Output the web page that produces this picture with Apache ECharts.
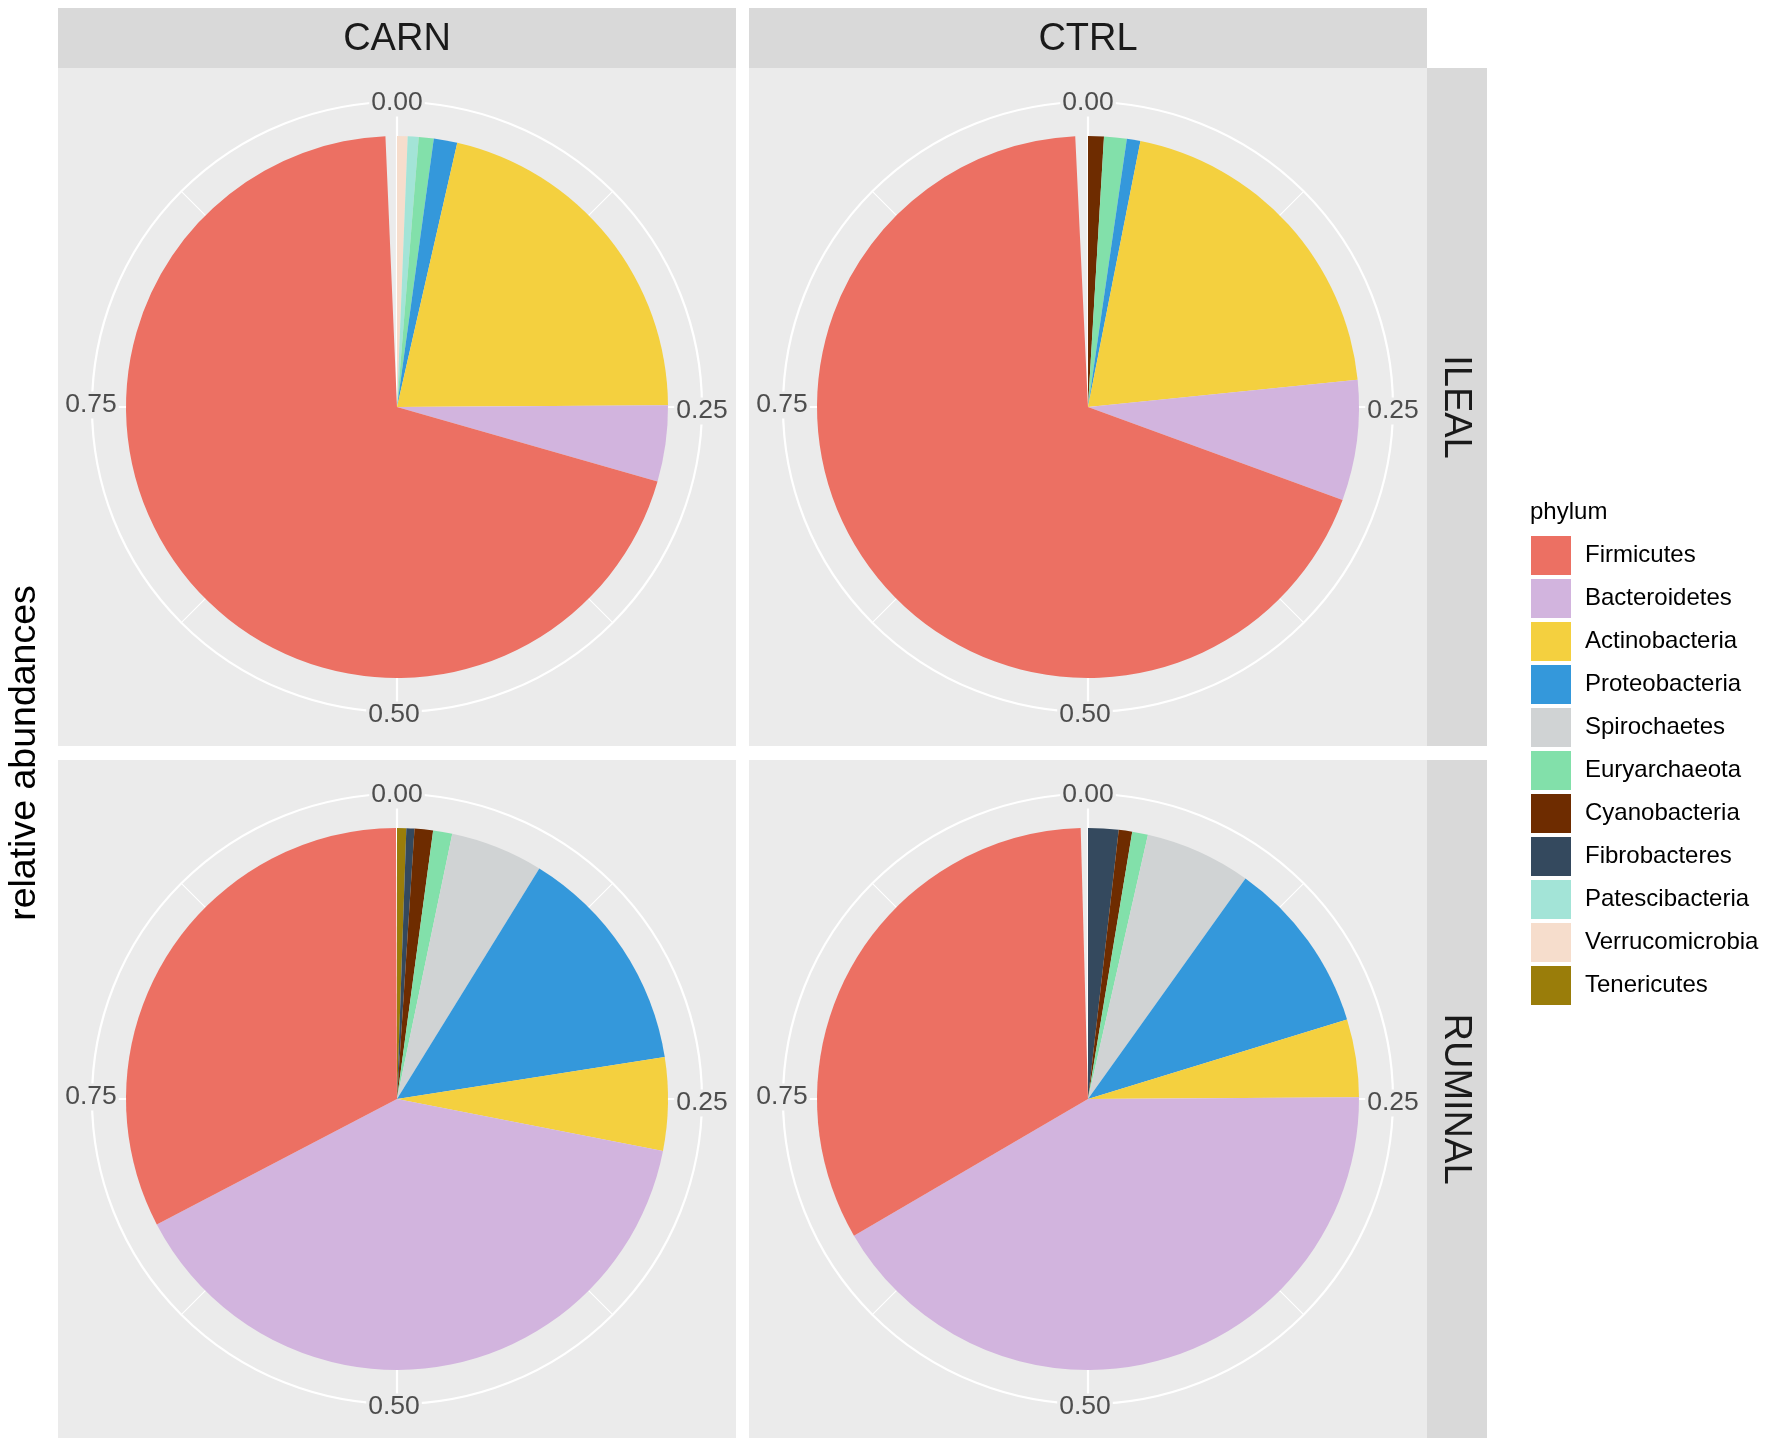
<!DOCTYPE html>
<html><head><meta charset="utf-8">
<script src="https://cdn.jsdelivr.net/npm/echarts@6/dist/echarts.min.js"></script>
<style>html,body{margin:0;padding:0;background:#fff}#c{width:1772px;height:1446px}</style>
</head><body><div id="c"></div>
<script>
// ---------- data ----------
const phyla = ['Firmicutes','Bacteroidetes','Actinobacteria','Proteobacteria','Spirochaetes','Euryarchaeota','Cyanobacteria','Fibrobacteres','Patescibacteria','Verrucomicrobia','Tenericutes'];
const phylumColors = ['#EC7063','#D2B4DE','#F4D03F','#3498DB','#D0D3D4','#82E0AA','#6E2C00','#34495E','#A3E4D7','#F6DDCC','#9A7D0A'];
const groups = ['CARN','CTRL'];
const sites = ['ILEAL','RUMINAL'];
// relative abundances, in phyla order
const carnIleal   = [0.6988,0.0454,0.2133,0.0140,0,0.0089,0,0,0.0065,0.0063,0];
const ctrlIleal   = [0.6868,0.0717,0.2030,0.0081,0,0.0135,0.0094,0,0,0,0];
const carnRuminal = [0.3260,0.3927,0.0554,0.1373,0.0553,0.0114,0.0110,0.0048,0,0,0.0055];
const ctrlRuminal = [0.3298,0.4169,0.0464,0.1039,0.0632,0.0094,0.0080,0.0181,0,0,0];
const tickValues = [0,0.25,0.5,0.75];
const tickLabels = ['0.00','0.25','0.50','0.75'];
const axisTitle = 'relative abundances';
const legendTitle = 'phylum';

// ---------- layout ----------
const FONT = '"Liberation Sans", Arial, Helvetica, sans-serif';
const panelX = [58, 749], panelY = [68, 760], PS = 678;
const R_PIE = 271, R_GRID = 305;
const panels = [
  {row:0, col:0, values:carnIleal},
  {row:0, col:1, values:ctrlIleal},
  {row:1, col:0, values:carnRuminal},
  {row:1, col:1, values:ctrlRuminal}
];
const labelTweak = [[0,1],[0,4],[-3,3],[-1,-2]];

const polar = [], angleAxis = [], radiusAxis = [], series = [], graphic = [];
const hidden = {show:false};

panels.forEach((p, k) => {
  const cx = panelX[p.col] + PS/2, cy = panelY[p.row] + PS/2;
  p.cx = cx; p.cy = cy;
  polar.push({center:[cx, cy], radius:[0, R_GRID]});
  angleAxis.push({
    polarIndex:k, type:'value', min:0, max:1, interval:0.25, startAngle:90, clockwise:true,
    axisLine:{show:true, lineStyle:{color:'#FFFFFF', width:2.2}},
    axisTick:hidden, axisLabel:hidden,
    splitLine:{show:true, lineStyle:{color:'#FFFFFF', width:2.2}},
    minorTick:{show:false, splitNumber:2},
    minorSplitLine:{show:true, lineStyle:{color:'#FFFFFF', width:1.1}},
    z:1
  });
  radiusAxis.push({polarIndex:k, type:'value', min:0, max:1,
    axisLine:hidden, axisTick:hidden, axisLabel:hidden, splitLine:hidden});
});
panels.forEach((p, k) => {
  polar.push({center:[p.cx, p.cy], radius:[0, R_PIE]});
  angleAxis.push({polarIndex:4+k, type:'value', min:0, max:1, startAngle:90, clockwise:true,
    axisLine:hidden, axisTick:hidden, axisLabel:hidden, splitLine:hidden});
  radiusAxis.push({polarIndex:4+k, type:'category', data:[''],
    axisLine:hidden, axisTick:hidden, axisLabel:hidden, splitLine:hidden});
  for (let j = phyla.length - 1; j >= 0; j--) {
    series.push({
      name:phyla[j], type:'bar', coordinateSystem:'polar', polarIndex:4+k,
      stack:'s'+k, data:[p.values[j]], barWidth:'100%', silent:true,
      itemStyle:{color:phylumColors[j]}, z:3
    });
  }
  graphic.push({type:'rect', z:-10, silent:true,
    shape:{x:panelX[p.col], y:panelY[p.row], width:PS, height:PS},
    style:{fill:'#EBEBEB'}});
  tickValues.forEach((v, i) => {
    const th = v * 2 * Math.PI;
    graphic.push({type:'text', z:60, silent:true,
      x: p.cx + R_GRID*Math.sin(th) + labelTweak[i][0],
      y: p.cy - R_GRID*Math.cos(th) + labelTweak[i][1],
      style:{text:tickLabels[i], fontSize:26.5, fontFamily:FONT, fill:'#4D4D4D',
        align:'center', verticalAlign:'middle', backgroundColor:'#EBEBEB', padding:[0,2]}});
  });
});

groups.forEach((g, c) => {
  graphic.push({type:'rect', z:-10, silent:true, shape:{x:panelX[c], y:8, width:PS, height:60}, style:{fill:'#D9D9D9'}});
  graphic.push({type:'text', z:60, silent:true, x:panelX[c]+PS/2, y:40,
    style:{text:g, fontSize:38, fontFamily:FONT, fill:'#1A1A1A', align:'center', verticalAlign:'middle'}});
});
sites.forEach((s, r) => {
  graphic.push({type:'rect', z:-10, silent:true, shape:{x:1427, y:panelY[r], width:60, height:PS}, style:{fill:'#D9D9D9'}});
  graphic.push({type:'text', z:60, silent:true, x:1455, y:panelY[r]+PS/2, rotation:-Math.PI/2,
    style:{text:s, fontSize:38, fontFamily:FONT, fill:'#1A1A1A', align:'center', verticalAlign:'middle'}});
});
graphic.push({type:'text', z:60, silent:true, x:25, y:753, rotation:Math.PI/2,
  style:{text:axisTitle, fontSize:37.5, fontFamily:FONT, fill:'#000000', align:'center', verticalAlign:'middle'}});
graphic.push({type:'text', z:60, silent:true, x:1530, y:512,
  style:{text:legendTitle, fontSize:24, fontFamily:FONT, fill:'#000000', align:'left', verticalAlign:'middle'}});

const chart = echarts.init(document.getElementById('c'), null, {renderer:'canvas'});
chart.setOption({
  animation:false,
  backgroundColor:'#FFFFFF',
  polar, angleAxis, radiusAxis, series, graphic,
  legend:{
    orient:'vertical', left:1531, top:536, padding:0,
    itemWidth:40, itemHeight:39, itemGap:4, icon:'rect', selectedMode:false,
    data:phyla,
    textStyle:{fontSize:24, color:'#000000', fontFamily:FONT, padding:[0,0,0,9]}
  }
});
</script></body></html>
